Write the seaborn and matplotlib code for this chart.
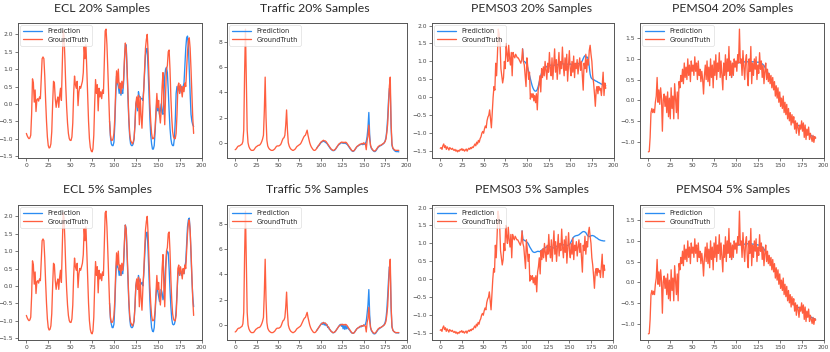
import numpy as np
import pandas as pd
import seaborn as sns
import matplotlib
matplotlib.use("Agg")
import matplotlib.pyplot as plt

# ---------------- data ----------------
ecl_gt = [-0.85, -0.92, -0.97, -1.0, -0.98, -0.9, -0.3, 0.72, 0.6, 0.05,
          0.4, -0.22, 0.12, 0.15, 0.08, 0.2, 0.15, 0.7, 1.3, 1.35,
          1.3, 0.8, 0.1, -0.5, -0.95, -1.2, -1.27, -1.25, -1.15, -0.8,
          0.0, 0.65, 0.6, 0.15, -0.1, 0.1, 0.2, -0.1, 0.25, 0.45,
          0.1, 1.1, 2.1, 1.95, 1.3, 0.5, -0.1, -0.55, -0.85, -1.0,
          -1.05, -1.05, -0.95, -0.55, 0.3, 0.8, 0.55, 0.45, 0.65, -0.05,
          0.35, 0.5, 0.45, 0.55, 0.65, 0.9, 1.65, 1.3, 1.7, 1.0,
          0.2, -0.5, -1.0, -1.25, -1.35, -1.38, -1.3, -0.9, 0.0, 0.7,
          0.3, 0.55, -0.2, 0.45, 0.2, 0.35, 0.15, 0.4, 0.3, 1.2,
          2.1, 2.15, 1.7, 1.0, 0.2, -0.5, -0.9, -1.05, -1.05, -1.0,
          -0.85, -0.4, 0.4, 0.95, 0.6, 1.0, 0.45, 0.6, 0.3, 0.65,
          0.45, 0.7, 1.3, 1.75, 1.6, 1.0, 0.3, -0.4, -0.85, -1.05,
          -1.1, -1.15, -1.1, -1.0, -0.6, 0.0, 0.2, -0.1, 0.25, -0.6,
          0.2, -0.35, -0.7, -0.1, 0.4, 1.0, 1.6, 1.85, 2.0, 1.5,
          0.7, 0.0, -0.5, -0.85, -1.0, -1.0, -0.95, -0.7, -0.2, 0.3,
          -0.1, 0.1, -0.3, -0.55, -0.2, 0.5, 0.9, 0.0, -0.6, 0.3,
          1.0, 1.1, 1.5, 1.55, 1.0, 0.2, -0.4, -0.8, -0.95, -1.0,
          -1.0, -0.85, -0.3, 0.5, 0.6, 0.3, 0.55, 0.4, 0.2, 0.5,
          0.35, 0.6, 0.5, 1.0, 1.5, 1.8, 1.9, 1.6, 1.0, 0.3,
          -0.4, -0.85]

ecl_pred20_tail = [-0.95, -1.15, -1.2, -1.2, -1.1, -0.6, 0.2, 0.8, 0.6, 0.5,
                   0.3, 0.45, 0.25, 0.4, 0.3, 0.6, 1.2, 1.7, 1.7, 1.0,
                   0.2, -0.5, -0.95, -1.15, -1.2, -1.2, -1.15, -1.0, -0.6, 0.0,
                   0.1, -0.2, 0.35, 0.2, 0.2, 0.15, 0.15, 0.1, 0.4, 0.9,
                   1.4, 1.55, 1.6, 1.0, 0.3, -0.4, -0.9, -1.15, -1.3, -1.3,
                   -1.2, -0.8, -0.3, 0.1, -0.2, -0.1, -0.3, -0.2, 0.0, -0.25,
                   -0.3, 0.2, 0.8, 1.0, 1.05, 0.9, 0.4, -0.2, -0.7, -1.0,
                   -1.15, -1.2, -1.2, -1.0, -0.5, 0.3, 0.5, 0.4, 0.45, 0.3,
                   0.4, 0.5, 0.35, 0.5, 0.6, 1.1, 1.6, 1.9, 1.95, 1.7,
                   1.0, 0.3, -0.3, -0.5, -0.6, -0.65]

ecl_pred5_tail = [-0.95, -1.1, -1.2, -1.2, -1.1, -0.6, 0.2, 0.7, 0.55, 0.5,
                  0.3, 0.45, 0.3, 0.4, 0.35, 0.6, 1.2, 1.75, 1.65, 0.9,
                  0.2, -0.5, -0.95, -1.15, -1.2, -1.2, -1.15, -1.0, -0.6, 0.0,
                  0.15, -0.1, 0.3, 0.15, 0.1, 0.05, 0.1, 0.0, 0.3, 0.8,
                  1.3, 1.5, 1.55, 1.0, 0.3, -0.4, -0.9, -1.2, -1.3, -1.32,
                  -1.2, -0.8, -0.3, 0.0, -0.15, -0.3, -0.45, -0.35, -0.1, -0.2,
                  -0.4, -0.3, 0.2, 0.6, 0.9, 1.0, 0.95, 0.5, -0.1, -0.6,
                  -0.95, -1.1, -1.12, -1.1, -1.0, -0.7, -0.2, 0.3, 0.45, 0.35,
                  0.4, 0.3, 0.4, 0.45, 0.35, 0.55, 0.7, 1.2, 1.7, 1.9,
                  1.95, 1.6, 0.9, 0.2, -0.3, -0.6]

traffic_gt = [-0.55, -0.5, -0.4, -0.3, -0.25, -0.25, -0.2, -0.15, -0.1, 0.1,
              1.0, 5.5, 9.0, 5.0, 1.0, 0.0, -0.3, -0.45, -0.55, -0.6,
              -0.6, -0.6, -0.55, -0.45, -0.35, -0.3, -0.25, -0.2, -0.2, -0.15,
              -0.05, 0.1, 0.3, 0.6, 2.5, 5.2, 2.0, 0.2, -0.25, -0.4,
              -0.5, -0.55, -0.6, -0.6, -0.6, -0.55, -0.5, -0.4, -0.3, -0.25,
              -0.25, -0.25, -0.2, -0.15, 0.0, 0.2, 0.35, 0.4, 0.6, 1.4,
              2.6, 1.0, 0.0, -0.25, -0.4, -0.5, -0.55, -0.6, -0.6, -0.55,
              -0.5, -0.4, -0.3, -0.25, -0.2, -0.15, -0.1, 0.0, 0.15, 0.3,
              0.45, 0.55, 0.6, 0.8, 1.0, 0.6, 0.3, 0.0, -0.2, -0.35,
              -0.45, -0.55, -0.6, -0.6, -0.55, -0.45, -0.35, -0.25, -0.15, -0.05,
              0.05, 0.1, 0.15, 0.2, 0.15, 0.15, 0.1, 0.0, -0.1, -0.2,
              -0.3, -0.4, -0.5, -0.55, -0.6, -0.6, -0.55, -0.5, -0.4, -0.3,
              -0.2, -0.1, -0.05, 0.0, 0.05, 0.05, 0.0, 0.05, 0.0, 0.05,
              0.0, -0.1, -0.2, -0.3, -0.4, -0.5, -0.6, -0.65, -0.65, -0.6,
              -0.5, -0.4, -0.3, -0.25, -0.2, -0.15, -0.1, -0.1, -0.05, -0.1,
              0.0, -0.05, -0.1, -0.55, 0.2, 0.5, 1.4, 0.3, -0.2, -0.4,
              -0.5, -0.6, -0.65, -0.65, -0.6, -0.5, -0.4, -0.3, -0.25, -0.2,
              -0.2, -0.15, -0.1, -0.05, 0.0, 0.1, 0.3, 0.8, 1.5, 3.0,
              4.5, 5.2, 1.5, -0.1, -0.4, -0.5, -0.55, -0.6, -0.6, -0.6,
              -0.6, -0.6]

traffic_pred20_tail = [-0.35, -0.25, -0.2, -0.1, 0.0, 0.05, 0.1, 0.12, 0.1, 0.05,
                       0.0, -0.05, -0.15, -0.25, -0.35, -0.45, -0.52, -0.58, -0.62, -0.62,
                       -0.6, -0.52, -0.42, -0.32, -0.22, -0.15, -0.1, -0.05, 0.0, 0.0,
                       -0.05, 0.0, -0.05, -0.05, -0.1, -0.15, -0.25, -0.35, -0.45, -0.55,
                       -0.62, -0.68, -0.68, -0.62, -0.52, -0.42, -0.32, -0.28, -0.22, -0.18,
                       -0.15, -0.12, -0.1, -0.15, -0.1, -0.12, -0.05, 0.1, 0.5, 1.2,
                       2.4, 0.6, -0.25, -0.45, -0.55, -0.62, -0.68, -0.7, -0.65, -0.55,
                       -0.45, -0.35, -0.3, -0.25, -0.22, -0.18, -0.12, -0.08, 0.0, 0.15,
                       0.4, 1.0, 2.0, 3.4, 4.3, 4.2, 1.2, -0.2, -0.45, -0.55,
                       -0.62, -0.68, -0.7, -0.7, -0.7, -0.72]

traffic_pred5_tail = [-0.35, -0.25, -0.15, -0.05, 0.05, 0.15, 0.05, 0.2, 0.0, 0.15,
                      -0.05, 0.05, -0.2, -0.15, -0.35, -0.4, -0.5, -0.55, -0.62, -0.6,
                      -0.58, -0.5, -0.4, -0.3, -0.2, -0.1, 0.0, 0.05, -0.1, 0.05,
                      -0.3, 0.0, -0.35, -0.05, -0.3, -0.1, -0.3, -0.35, -0.45, -0.55,
                      -0.62, -0.65, -0.65, -0.6, -0.5, -0.4, -0.3, -0.25, -0.2, -0.2,
                      -0.1, -0.15, -0.05, -0.1, 0.0, -0.05, 0.05, 0.3, 0.9, 1.6,
                      2.8, 0.8, -0.2, -0.45, -0.55, -0.65, -0.7, -0.7, -0.65, -0.55,
                      -0.45, -0.35, -0.3, -0.25, -0.2, -0.15, -0.1, -0.05, 0.05, 0.2,
                      0.5, 1.2, 2.3, 3.6, 4.6, 4.4, 1.3, -0.15, -0.4, -0.5,
                      -0.55, -0.6, -0.62, -0.62, -0.62, -0.63]

pems03_gt = [-1.42, -1.4, -1.45, -1.35, -1.3, -1.4, -1.35, -1.45, -1.38, -1.42,
             -1.47, -1.4, -1.43, -1.45, -1.42, -1.46, -1.48, -1.45, -1.5, -1.47,
             -1.52, -1.48, -1.5, -1.45, -1.47, -1.43, -1.48, -1.45, -1.5, -1.47,
             -1.44, -1.5, -1.45, -1.42, -1.45, -1.4, -1.43, -1.38, -1.4, -1.35,
             -1.3, -1.35, -1.25, -1.3, -1.2, -1.25, -1.15, -1.1, -1.0, -0.95,
             -1.0, -0.88, -0.8, -0.85, -0.65, -0.55, -0.5, -0.35, -0.6, -0.85,
             -0.4, 0.0, 0.3, 0.2, 0.95, 0.6, 1.2, 1.9, 1.75, 1.5,
             0.8, 0.6, 0.4, 0.55, 1.0, 0.8, 1.5, 1.2, 1.0, 1.45,
             1.1, 0.9, 1.25, 0.6, 1.25, 1.15, 1.1, 1.2, 1.15, 1.1,
             1.1, 1.05, 1.0, 0.95, 1.05, 1.35, 1.0, 0.9, 0.6, 0.3,
             1.1, 0.85, 0.5, 0.7, -0.05, 0.1, 0.0, 0.1, -0.1, 0.05,
             -0.15, 0.1, -0.35, 0.2, 0.35, 0.6, 0.15, 0.8, 0.55, 0.85,
             0.6, 1.0, 0.75, 0.5, 0.95, 0.7, 1.25, 0.8, 0.6, 1.1,
             0.5, 0.95, 1.35, 0.7, 1.05, 0.5, 0.9, 1.25, 0.65, 1.0,
             0.8, 1.4, 0.9, 0.6, 1.1, 0.75, 1.2, 0.45, 0.9, 1.3,
             0.8, 0.6, 1.0, 0.7, 1.15, 0.55, 0.95, 0.8, 1.05, 0.65,
             0.9, 1.1, 0.75, 1.0, 0.6, 0.2, 0.95, 0.8, 1.2, 0.7,
             1.05, 0.9, 1.3, 1.45, 1.2, 1.0, 0.6, 0.4, 0.1, -0.25,
             0.2, 0.3, 0.1, 0.3, 0.2, 0.25, 0.05, 0.35, 0.7, 0.05,
             0.4, 0.25]

pems03_pred20_tail = [1.0, 1.0, 0.98, 0.95, 0.9, 0.82, 0.72, 0.62, 0.52, 0.42,
                      0.33, 0.26, 0.21, 0.18, 0.17, 0.18, 0.22, 0.3, 0.4, 0.5,
                      0.6, 0.68, 0.73, 0.77, 0.8, 0.82, 0.84, 0.86, 0.87, 0.86,
                      0.88, 0.9, 0.89, 0.87, 0.86, 0.88, 0.9, 0.92, 0.91, 0.9,
                      0.92, 0.93, 0.93, 0.92, 0.93, 0.94, 0.93, 0.92, 0.93, 0.94,
                      0.93, 0.92, 0.91, 0.92, 0.93, 0.92, 0.9, 0.91, 0.93, 0.94,
                      0.93, 0.92, 0.94, 0.95, 0.93, 0.95, 0.96, 0.98, 1.02, 1.08,
                      1.13, 1.16, 1.15, 1.1, 1.12, 1.05, 0.85, 0.65, 0.55, 0.52,
                      0.5, 0.49, 0.48, 0.46, 0.45, 0.44, 0.42, 0.41, 0.4, 0.38,
                      0.37, 0.36, 0.35, 0.35, 0.34, 0.33]

pems03_pred5_tail = [1.1, 1.1, 1.08, 1.07, 1.05, 1.03, 1.0, 0.95, 0.9, 0.86,
                     0.82, 0.78, 0.76, 0.75, 0.75, 0.76, 0.77, 0.78, 0.78, 0.77,
                     0.78, 0.8, 0.82, 0.83, 0.85, 0.87, 0.88, 0.9, 0.91, 0.9,
                     0.89, 0.9, 0.91, 0.9, 0.89, 0.88, 0.87, 0.88, 0.9, 0.92,
                     0.93, 0.94, 0.95, 0.96, 0.97, 0.96, 0.95, 0.96, 0.97, 0.96,
                     0.95, 0.95, 0.94, 0.95, 0.97, 1.0, 1.05, 1.1, 1.15, 1.18,
                     1.2, 1.21, 1.22, 1.22, 1.23, 1.24, 1.26, 1.28, 1.3, 1.32,
                     1.33, 1.33, 1.32, 1.3, 1.26, 1.22, 1.2, 1.19, 1.2, 1.21,
                     1.22, 1.22, 1.21, 1.2, 1.18, 1.16, 1.15, 1.13, 1.11, 1.1,
                     1.09, 1.08, 1.08, 1.07, 1.07, 1.07]

pems04_gt = [-1.25, -1.24, -0.9, -0.3, -0.2, -0.3, -0.22, -0.3, -0.05, 0.1,
             0.55, -0.05, 0.25, -0.1, 0.3, 0.05, -0.75, 0.0, 0.15, -0.15,
             0.1, -0.3, 0.2, -0.4, 0.05, -0.45, 0.3, -0.2, 0.1, -0.45,
             0.4, 0.05, -0.3, 0.2, -0.45, 0.45, 0.3, 0.6, 0.45, 0.75,
             0.4, 0.9, 0.55, 0.8, 0.5, 1.0, 0.6, 0.85, 0.45, 0.95,
             0.7, 0.85, 0.6, 1.05, 0.7, 0.9, 0.5, 0.95, 0.6, 0.75,
             0.45, 0.7, 0.5, 0.15, 0.6, 0.85, 0.5, 0.95, 0.45, 0.8,
             0.35, 1.0, 0.55, 0.85, 0.3, 0.95, 0.6, 1.1, 0.5, 0.9,
             0.7, 1.15, 0.55, 0.95, 0.6, 0.25, 0.9, 0.6, 1.1, 0.5,
             1.0, 0.7, 1.3, 0.6, 0.95, 0.55, 0.9, 0.6, 1.0, 0.8,
             0.95, 0.7, 1.1, 0.9, 1.72, 0.9, 1.0, 0.6, 1.2, 0.8,
             0.5, 0.95, 1.1, 0.6, 0.35, 1.0, 0.7, 1.3, 0.4, 0.9,
             0.6, 1.0, 0.75, 1.05, 0.5, 0.85, 0.65, 1.15, 0.75, 0.95,
             0.55, 0.85, 0.4, 0.7, 0.9, 0.5, 0.75, 0.45, 0.65, 0.4,
             0.6, 0.3, 0.55, 0.25, 0.45, 0.1, 0.35, 0.05, 0.3, -0.05,
             0.2, -0.15, 0.05, -0.2, 0.1, -0.3, -0.05, -0.35, -0.1, -0.45,
             -0.2, -0.5, -0.3, -0.6, -0.35, -0.55, -0.4, -0.7, -0.5, -0.8,
             -0.55, -0.65, -0.85, -0.6, -0.7, -0.5, -0.75, -0.55, -0.9, -0.6,
             -0.95, -0.7, -0.85, -0.65, -0.95, -0.8, -0.9, -1.0, -0.85, -1.02,
             -0.88, -0.92]

pems04_pred20_tail = [0.88, 0.88, 0.89, 0.89, 0.9, 0.9, 0.9, 0.91, 0.91, 0.91,
                      0.92, 0.92, 0.92, 0.92, 0.93, 0.93, 0.93, 0.93, 0.93, 0.93,
                      0.93, 0.93, 0.93, 0.93, 0.93, 0.93, 0.93, 0.92, 0.92, 0.92,
                      0.92, 0.91, 0.9, 0.89, 0.88, 0.86, 0.84, 0.8, 0.76, 0.72,
                      0.68, 0.64, 0.6, 0.55, 0.5, 0.46, 0.42, 0.37, 0.33, 0.28,
                      0.24, 0.2, 0.15, 0.11, 0.07, 0.03, -0.01, -0.05, -0.1, -0.15,
                      -0.2, -0.24, -0.28, -0.32, -0.36, -0.4, -0.43, -0.46, -0.49, -0.51,
                      -0.53, -0.55, -0.57, -0.58, -0.6, -0.61, -0.62, -0.63, -0.64, -0.65,
                      -0.66, -0.68, -0.7, -0.72, -0.74, -0.76, -0.78, -0.8, -0.82, -0.84,
                      -0.86, -0.87, -0.88, -0.89, -0.9, -0.91]

pems04_pred5_tail = [0.87, 0.87, 0.88, 0.88, 0.89, 0.89, 0.9, 0.9, 0.9, 0.91,
                     0.91, 0.91, 0.92, 0.92, 0.92, 0.92, 0.92, 0.93, 0.93, 0.93,
                     0.93, 0.93, 0.93, 0.92, 0.92, 0.92, 0.92, 0.91, 0.91, 0.9,
                     0.9, 0.89, 0.88, 0.87, 0.85, 0.83, 0.8, 0.77, 0.73, 0.69,
                     0.65, 0.61, 0.57, 0.52, 0.48, 0.44, 0.39, 0.35, 0.3, 0.26,
                     0.22, 0.17, 0.13, 0.09, 0.05, 0.01, -0.03, -0.08, -0.13, -0.18,
                     -0.22, -0.26, -0.3, -0.34, -0.38, -0.41, -0.44, -0.47, -0.5, -0.52,
                     -0.54, -0.56, -0.57, -0.58, -0.6, -0.61, -0.62, -0.63, -0.64, -0.65,
                     -0.66, -0.67, -0.69, -0.71, -0.73, -0.75, -0.77, -0.79, -0.81, -0.83,
                     -0.85, -0.86, -0.87, -0.88, -0.89, -0.9]

input_len = 96
titles = ["ECL 20% Samples", "Traffic 20% Samples", "PEMS03 20% Samples", "PEMS04 20% Samples",
          "ECL 5% Samples", "Traffic 5% Samples", "PEMS03 5% Samples", "PEMS04 5% Samples"]
gts = [ecl_gt, traffic_gt, pems03_gt, pems04_gt] * 2
pred_tails = [ecl_pred20_tail, traffic_pred20_tail, pems03_pred20_tail, pems04_pred20_tail,
              ecl_pred5_tail, traffic_pred5_tail, pems03_pred5_tail, pems04_pred5_tail]
yticks = [[-1.5, -1.0, -0.5, 0.0, 0.5, 1.0, 1.5, 2.0], [0, 2, 4, 6, 8],
          [-1.5, -1.0, -0.5, 0.0, 0.5, 1.0, 1.5, 2.0], [-1.0, -0.5, 0.0, 0.5, 1.0, 1.5]] * 2
xticks = [0, 25, 50, 75, 100, 125, 150, 175, 200]

# ---------------- layout (pixel boxes: left, right, top, bottom) ----------------
W, H = 830, 352
boxes = [(18, 202, 23, 158), (227, 407, 23, 158), (432, 614, 23, 158), (640, 824, 23, 158),
         (18, 202, 205, 340), (227, 407, 205, 340), (432, 613, 205, 340), (640, 824, 205, 340)]
title_pos = [(102, 8), (315, 8), (532, 8), (733, 8),
             (107, 189), (317, 189), (532, 189), (733, 189)]

sns.set_style("white")
plt.rcParams['font.family'] = ['DejaVu Sans']

fig = plt.figure(figsize=(W / 100, H / 100), dpi=100)
fig.patch.set_facecolor("white")

PRED_C = "#2b8cf2"
GT_C = "#ff5e3f"

for i in range(8):
    l, r, t, b = boxes[i]
    ax = fig.add_axes([l / W, 1 - b / H, (r - l) / W, (b - t) / H])
    gt = gts[i]
    pred = list(gt[:input_len]) + list(pred_tails[i])
    df = pd.DataFrame({"step": np.arange(len(gt)), "gt": gt, "pred": pred})
    # prediction coincides with the input window; draw it where it can differ
    dfp = df[df["step"] >= input_len - 1]
    sns.lineplot(data=dfp, x="step", y="pred", ax=ax, color=PRED_C, lw=0.95, label="Prediction")
    sns.lineplot(data=df, x="step", y="gt", ax=ax, color=GT_C, lw=0.95, label="GroundTruth")
    ax.set_xticks(xticks)
    ax.set_yticks(yticks[i])
    ax.set_xlim(-9.55, 200.55)
    ax.set_xlabel("")
    ax.set_ylabel("")
    ax.tick_params(axis="both", labelsize=4.3, length=2, width=0.5, pad=1.5,
                   colors="#444444", bottom=True, left=True)
    for s in ax.spines.values():
        s.set_color("#555555")
        s.set_linewidth(0.7)
    leg = ax.legend(loc="upper left", fontsize=4.8, frameon=True, handlelength=2.8,
                    borderpad=0.45, labelspacing=0.35, handletextpad=0.8, borderaxespad=0.35)
    leg.get_frame().set_linewidth(0.4)
    leg.get_frame().set_edgecolor("#cccccc")
    fig.text(title_pos[i][0] / W, 1 - title_pos[i][1] / H, titles[i],
             ha="center", va="center", fontsize=8.8, fontweight="normal",
             family=["Lato", "DejaVu Sans"], color="#2a2a2a")

fig.savefig("out.png", dpi=100, facecolor="white")
